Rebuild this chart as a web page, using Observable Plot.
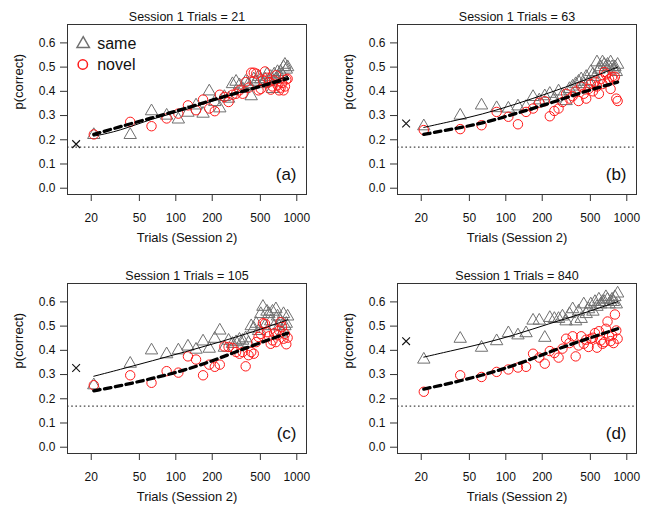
<!DOCTYPE html>
<html>
<head>
<meta charset="utf-8">
<script src="https://cdn.jsdelivr.net/npm/d3@7"></script>
<script src="https://cdn.jsdelivr.net/npm/@observablehq/plot@0.6"></script>
<style>
  html, body { margin: 0; padding: 0; background: #fff; }
  #grid { position: relative; width: 660px; height: 518px; background: #fff; }
  #grid > svg { position: absolute; }
</style>
</head>
<body>
<div id="grid"></div>
<script>
// Session 2 trial counts at which accuracy was measured
const trials = [21, 42, 63, 84, 105, 126, 147, 168, 189, 210, 231, 252, 273, 294, 315, 336, 357, 378, 399, 420,
                441, 462, 483, 504, 525, 546, 567, 588, 609, 630, 651, 672, 693, 714, 735, 756, 777, 798, 819, 840];

// Session 1 trial counts (one panel each) and panel tags
const session1 = [21, 63, 105, 840];
const tags = ["(a)", "(b)", "(c)", "(d)"];

// p(correct) for "same" items, one array per panel
const sameA = [0.22, 0.22, 0.318, 0.30, 0.284, 0.312, 0.342, 0.308, 0.40, 0.356, 0.33, 0.377, 0.37, 0.43, 0.44, 0.425, 0.41, 0.44, 0.43, 0.38,
               0.45, 0.44, 0.46, 0.45, 0.43, 0.45, 0.47, 0.44, 0.46, 0.41, 0.47, 0.45, 0.48, 0.46, 0.48, 0.47, 0.50, 0.51, 0.49, 0.50];
const sameB = [0.256, 0.30, 0.342, 0.331, 0.329, 0.338, 0.336, 0.377, 0.363, 0.38, 0.39, 0.37, 0.40, 0.385, 0.36, 0.41, 0.42, 0.43, 0.44, 0.45,
               0.43, 0.46, 0.44, 0.48, 0.47, 0.46, 0.52, 0.49, 0.50, 0.52, 0.51, 0.50, 0.51, 0.50, 0.52, 0.50, 0.49, 0.50, 0.48, 0.51];
const sameC = [0.256, 0.345, 0.40, 0.384, 0.40, 0.416, 0.403, 0.437, 0.407, 0.448, 0.482, 0.411, 0.44, 0.427, 0.434, 0.444, 0.44, 0.45, 0.43, 0.50,
               0.49, 0.51, 0.48, 0.55, 0.58, 0.50, 0.56, 0.55, 0.52, 0.56, 0.50, 0.57, 0.54, 0.50, 0.52, 0.47, 0.55, 0.50, 0.51, 0.54];
const sameD = [0.362, 0.448, 0.411, 0.438, 0.471, 0.462, 0.471, 0.523, 0.523, 0.452, 0.534, 0.53, 0.53, 0.54, 0.52, 0.55, 0.57, 0.52, 0.56, 0.53,
               0.59, 0.55, 0.57, 0.59, 0.56, 0.60, 0.58, 0.61, 0.59, 0.60, 0.60, 0.62, 0.61, 0.59, 0.60, 0.61, 0.60, 0.62, 0.59, 0.635];

// p(correct) for "novel" items, one array per panel
const novelA = [0.222, 0.274, 0.256, 0.288, 0.308, 0.342, 0.322, 0.366, 0.329, 0.318, 0.386, 0.377, 0.356, 0.386, 0.39, 0.404, 0.39, 0.438, 0.415, 0.477,
                0.477, 0.473, 0.404, 0.41, 0.445, 0.482, 0.456, 0.438, 0.407, 0.42, 0.445, 0.466, 0.425, 0.404, 0.415, 0.434, 0.404, 0.42, 0.449, 0.452];
const novelB = [0.24, 0.244, 0.26, 0.315, 0.295, 0.264, 0.315, 0.329, 0.353, 0.359, 0.297, 0.319, 0.329, 0.356, 0.39, 0.37, 0.38, 0.40, 0.36, 0.42,
                0.39, 0.37, 0.41, 0.43, 0.40, 0.44, 0.42, 0.39, 0.45, 0.43, 0.48, 0.47, 0.44, 0.45, 0.41, 0.46, 0.45, 0.46, 0.37, 0.36];
const novelC = [0.256, 0.297, 0.266, 0.314, 0.308, 0.375, 0.362, 0.297, 0.341, 0.332, 0.341, 0.416, 0.414, 0.41, 0.393, 0.386, 0.393, 0.334, 0.38, 0.393,
                0.386, 0.434, 0.455, 0.468, 0.512, 0.51, 0.475, 0.458, 0.427, 0.441, 0.471, 0.434, 0.462, 0.482, 0.516, 0.496, 0.448, 0.468, 0.425, 0.452];
const novelD = [0.229, 0.297, 0.29, 0.311, 0.321, 0.329, 0.332, 0.386, 0.37, 0.345, 0.397, 0.389, 0.37, 0.407, 0.448, 0.43, 0.458, 0.375, 0.42, 0.458,
                0.427, 0.444, 0.414, 0.448, 0.452, 0.471, 0.411, 0.479, 0.441, 0.427, 0.434, 0.489, 0.519, 0.458, 0.438, 0.462, 0.43, 0.548, 0.482, 0.448];

// fitted curves, sampled at these trial counts
const fitTrials = [21, 34, 64, 120, 227, 428, 840];
const fitSameA  = [0.215, 0.236, 0.288, 0.322, 0.370, 0.411, 0.462];
const fitSameB  = [0.251, 0.274, 0.305, 0.346, 0.393, 0.442, 0.500];
const fitSameC  = [0.293, 0.320, 0.357, 0.394, 0.433, 0.475, 0.526];
const fitSameD  = [0.372, 0.396, 0.427, 0.464, 0.510, 0.551, 0.601];
const fitNovelA = [0.222, 0.253, 0.291, 0.329, 0.373, 0.411, 0.452];
const fitNovelB = [0.222, 0.242, 0.267, 0.308, 0.349, 0.397, 0.438];
const fitNovelC = [0.233, 0.252, 0.284, 0.318, 0.366, 0.420, 0.471];
const fitNovelD = [0.240, 0.263, 0.297, 0.338, 0.393, 0.441, 0.489];

// end-of-session-1 score (drawn as a cross at 15 trials) and chance level
const crossTrial = 15;
const crossScore = [0.182, 0.267, 0.327, 0.438];
const chance = 0.17;

const xTicks = [20, 50, 100, 200, 500, 1000];
const yTicks = [0, 0.1, 0.2, 0.3, 0.4, 0.5, 0.6];

const sameSets  = [sameA, sameB, sameC, sameD];
const novelSets = [novelA, novelB, novelC, novelD];
const fitSame   = [fitSameA, fitSameB, fitSameC, fitSameD];
const fitNovel  = [fitNovelA, fitNovelB, fitNovelC, fitNovelD];

const FONT = "'Liberation Sans', Arial, Helvetica, sans-serif";
const GREY = "#707070";
const RED = "#ff1a1a";

function toRows(xs, ys) { return xs.map((x, i) => ({x, y: ys[i]})); }

function panel(i) {
  const same = toRows(trials, sameSets[i]);
  const novel = toRows(trials, novelSets[i]);
  const sameFit = toRows(fitTrials, fitSame[i]);
  const novelFit = toRows(fitTrials, fitNovel[i]);
  const label = (txt, opts) => Plot.text([txt], {text: d => d, lineAnchor: "middle", fill: "#111", ...opts});
  const marks = [
    Plot.ruleY([chance], {stroke: "#444", strokeWidth: 1.2, strokeDasharray: "1.6,2.6"}),
    Plot.dot(same, {x: "x", y: "y", symbol: "triangle", r: 4.6, stroke: GREY, strokeWidth: 1, fill: "none"}),
    Plot.dot(novel, {x: "x", y: "y", r: 4.7, stroke: RED, strokeWidth: 1, fill: "none"}),
    Plot.line(sameFit, {x: "x", y: "y", curve: "basis", stroke: "#000", strokeWidth: 1}),
    Plot.line(novelFit, {x: "x", y: "y", curve: "basis", stroke: "#000", strokeWidth: 3.3, strokeDasharray: "6.5,4.5"}),
    Plot.dot([{x: crossTrial, y: crossScore[i]}], {x: "x", y: "y", symbol: "times", r: 3.6, stroke: "#111", strokeWidth: 1.1}),
    Plot.frame({stroke: "#333", strokeWidth: 1}),
    Plot.axisX({ticks: xTicks, tickFormat: d3.format("d"), tickSize: 7, tickPadding: 12, label: null, fontSize: 12, stroke: "#333"}),
    Plot.axisY({ticks: yTicks, tickFormat: d3.format(".1f"), tickSize: 7, tickPadding: 5, label: null, fontSize: 12, stroke: "#333"}),
    label(`Session 1 Trials = ${session1[i]}`, {frameAnchor: "top", dy: -8, fontSize: 12.5}),
    label("Trials (Session 2)", {frameAnchor: "bottom", dy: 43, fontSize: 13}),
    label("p(correct)", {frameAnchor: "left", dx: -49, rotate: -90, fontSize: 13}),
    label(tags[i], {frameAnchor: "bottom-right", dx: -10, dy: -20, textAnchor: "end", fontSize: 17})
  ];
  if (i === 0) {
    marks.push(
      Plot.dot(["same"], {frameAnchor: "top-left", dx: 15.7, dy: 19.3, symbol: "triangle", r: 4.6, stroke: GREY, fill: "none"}),
      Plot.dot(["novel"], {frameAnchor: "top-left", dx: 15.3, dy: 40, r: 4.7, stroke: RED, fill: "none"}),
      label("same", {frameAnchor: "top-left", dx: 29.7, dy: 19.3, textAnchor: "start", fontSize: 16}),
      label("novel", {frameAnchor: "top-left", dx: 29.7, dy: 40, textAnchor: "start", fontSize: 16})
    );
  }
  return Plot.plot({
    width: 330,
    height: 259,
    marginTop: 24,
    marginLeft: 67,
    marginRight: 24,
    marginBottom: 65,
    x: {type: "log", domain: [12.73, 1203], label: null},
    y: {domain: [-0.026, 0.676], label: null},
    style: {fontFamily: FONT, fontSize: "12px", color: "#111", background: "transparent"},
    marks
  });
}

const grid = document.getElementById("grid");
const offsets = [[0, 0], [330, 0], [0, 259], [330, 259]];
offsets.forEach(([left, top], i) => {
  const svg = panel(i);
  svg.style.left = left + "px";
  svg.style.top = top + "px";
  grid.appendChild(svg);
});
</script>
</body>
</html>
